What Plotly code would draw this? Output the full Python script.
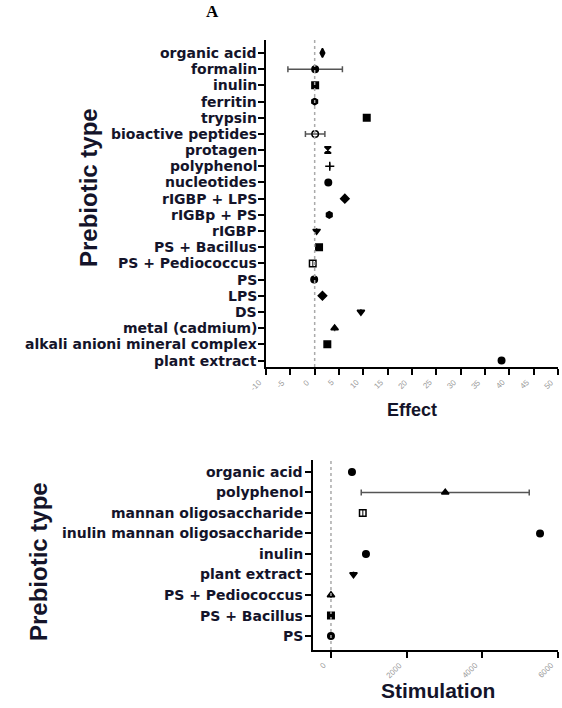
import plotly.graph_objects as go

# ---- Top panel (Effect) ----
top_categories = ["organic acid", "formalin", "inulin", "ferritin", "trypsin",
                  "bioactive peptides", "protagen", "polyphenol", "nucleotides",
                  "rIGBP + LPS", "rIGBp + PS", "rIGBP", "PS + Bacillus",
                  "PS + Pediococcus", "PS", "LPS", "DS", "metal (cadmium)",
                  "alkali anioni mineral complex", "plant extract"]
top_effect = [1.6, 0.1, 0.1, 0.0, 10.7, 0.1, 2.7, 3.1, 2.8, 6.2, 3.0, 0.4,
              0.9, -0.4, -0.1, 1.6, 9.5, 4.1, 2.6, 38.4]
top_error = [0, 5.6, 0, 0, 0, 2.0, 0, 0, 0, 0, 0, 0, 0, 0, 0, 0, 0, 0, 0, 0]
top_xticks = [-10, -5, 0, 5, 10, 15, 20, 25, 30, 35, 40, 45, 50]

# ---- Bottom panel (Stimulation) ----
bot_categories = ["organic acid", "polyphenol", "mannan oligosaccharide",
                  "inulin mannan oligosaccharide", "inulin", "plant extract",
                  "PS + Pediococcus", "PS + Bacillus", "PS"]
bot_stim = [555, 3020, 840, 5525, 925, 595, 0, 0, 0]
bot_error = [0, 2220, 0, 0, 0, 0, 0, 0, 0]
bot_xticks = [0, 2000, 4000, 6000]

top_symbols = ["diamond-tall", "circle", "square", "hexagon", "square",
               "circle-open", "hourglass", "cross-thin-open", "circle", "diamond",
               "hexagon", "triangle-down", "square", "square-open", "circle",
               "diamond", "triangle-down", "triangle-up", "square", "circle"]
bot_symbols = ["circle", "triangle-up", "square-open", "circle", "circle",
               "triangle-down", "triangle-up", "square", "circle"]

W, H = 562, 708


def px_x(v):
    return v / W


def px_y(v):
    return 1 - v / H


fig = go.Figure()

fig.add_trace(go.Scatter(
    x=top_effect, y=top_categories, mode="markers",
    marker=dict(color="black", size=6.5, symbol=top_symbols,
                line=dict(color="black", width=1.5)),
    error_x=dict(type="data", array=top_error, color="#555", thickness=1.5, width=3),
    xaxis="x", yaxis="y", showlegend=False))

fig.add_trace(go.Scatter(
    x=bot_stim, y=bot_categories, mode="markers",
    marker=dict(color="black", size=6.5, symbol=bot_symbols,
                line=dict(color="black", width=1.5)),
    error_x=dict(type="data", array=bot_error, color="#555", thickness=1.5, width=3),
    xaxis="x2", yaxis="y2", showlegend=False))

axis_common = dict(ticks="outside", ticklen=6, tickwidth=2, tickcolor="black",
                   showline=True, linecolor="black", linewidth=2, showgrid=False,
                   zeroline=False, showticklabels=False, automargin=False)

fig.update_layout(
    width=W, height=H, margin=dict(l=0, r=0, t=0, b=0, autoexpand=False),
    paper_bgcolor="white", plot_bgcolor="white",
    xaxis=dict(domain=[px_x(266), px_x(558)], anchor="y", range=[-10, 50],
               tickvals=top_xticks, **axis_common),
    yaxis=dict(domain=[px_y(367), px_y(40)], anchor="x", type="category",
               categoryorder="array", categoryarray=top_categories,
               range=[19.4, -0.8], **axis_common),
    xaxis2=dict(domain=[px_x(313), px_x(558)], anchor="y2", range=[-475, 6000],
                tickvals=bot_xticks, **axis_common),
    yaxis2=dict(domain=[px_y(650), px_y(460)], anchor="x2", type="category",
                categoryorder="array", categoryarray=bot_categories,
                range=[8.68, -0.58], **axis_common),
)

# dotted zero reference lines
fig.add_shape(type="line", xref="x", yref="y domain", x0=0, x1=0, y0=0, y1=1,
              line=dict(color="#aaa", width=1.5, dash="dot"))
fig.add_shape(type="line", xref="x2", yref="y2 domain", x0=0, x1=0, y0=0, y1=1,
              line=dict(color="#aaa", width=1.5, dash="dot"))

lbl_color = "#14142a"
lbl_family = "DejaVu Sans"
# category tick labels (y axes)
for c in top_categories:
    fig.add_annotation(text=c, x=px_x(259), y=c, xref="paper", yref="y",
                       xanchor="right", yanchor="middle", showarrow=False,
                       font=dict(family=lbl_family, size=14,
                                 color=lbl_color, weight="bold"))
for c in bot_categories:
    fig.add_annotation(text=c, x=px_x(305), y=c, xref="paper", yref="y2",
                       xanchor="right", yanchor="middle", showarrow=False,
                       font=dict(family=lbl_family, size=14,
                                 color=lbl_color, weight="bold"))
# numeric tick labels (x axes), rotated
for v in top_xticks:
    fig.add_annotation(text=str(v), x=v, y=px_y(375), xref="x", yref="paper",
                       xanchor="right", yanchor="top", textangle=-45,
                       showarrow=False,
                       font=dict(family="Liberation Sans", size=8, color="#999"))
for v in bot_xticks:
    fig.add_annotation(text=str(v), x=v, y=px_y(658), xref="x2", yref="paper",
                       xanchor="right", yanchor="top", textangle=-45,
                       showarrow=False,
                       font=dict(family="Liberation Sans", size=8, color="#999"))

title_font = dict(family="Liberation Sans", color=lbl_color, weight="bold")


def title(text, x, y, size, angle=0, font=None):
    fig.add_annotation(text=text, x=px_x(x), y=px_y(y), xref="paper",
                       yref="paper", showarrow=False, textangle=angle,
                       xanchor="center", yanchor="middle",
                       font=font or dict(title_font, size=size))


title("A", 212, 12, 17, font=dict(family="Liberation Serif", size=17,
                                   color="black", weight="bold"))
title("Prebiotic type", 88, 188, 24, angle=-90)
title("Effect", 412, 410, 18)
title("Prebiotic type", 38, 562, 24, angle=-90)
title("Stimulation", 438, 690, 21)

fig.write_html("out.html", config={"displayModeBar": False},
               post_script="document.body.style.margin='0';")
